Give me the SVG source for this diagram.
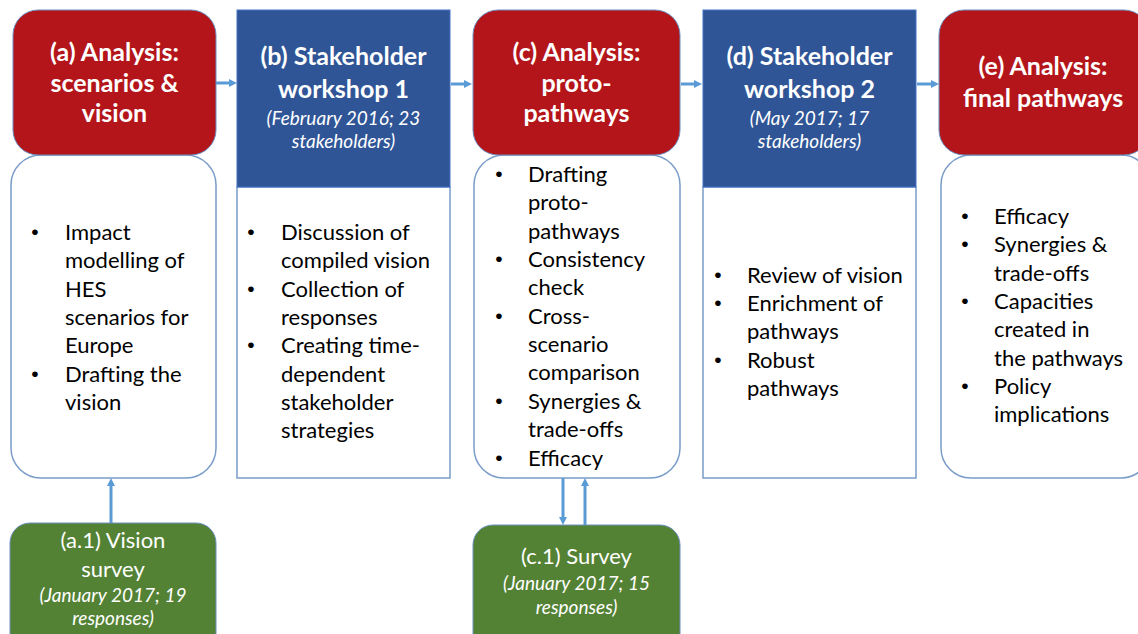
<svg xmlns="http://www.w3.org/2000/svg" width="1138" height="634" viewBox="0 0 1138 634">
<defs>
<style>
.red{fill:#B4151A;stroke:#6C8FC0;stroke-width:1}
.blue{fill:#2F5597;stroke:#4472C4;stroke-width:1}
.green{fill:#548235;stroke:#6C8FC0;stroke-width:1}
.white{fill:#FFFFFF;stroke:#7A9CC8;stroke-width:1.5}
.t{font-family:Lato,"Open Sans","Liberation Sans",sans-serif;font-weight:bold;font-size:25px;fill:#FFFFFF;text-anchor:middle}
.it{font-family:Lato,"Open Sans","Liberation Sans",sans-serif;font-style:italic;font-size:19px;fill:#FFFFFF;text-anchor:middle}
.g{font-family:Lato,"Open Sans","Liberation Sans",sans-serif;font-size:22px;fill:#FFFFFF;text-anchor:middle}
.b{font-family:Lato,"Open Sans","Liberation Sans",sans-serif;font-size:22px;fill:#000000}
.d{font-family:"Liberation Sans",sans-serif;font-size:21px;fill:#000000;text-anchor:middle}
.c{stroke:#5B9BD5;stroke-width:3;fill:none;marker-end:url(#ah)}
</style>
<marker id="ah" viewBox="0 0 10 10" refX="5" refY="5" markerWidth="8" markerHeight="9" markerUnits="userSpaceOnUse" orient="auto">
<path d="M0,0 L10,5 L0,10 z" fill="#5B9BD5"/>
</marker>
</defs>
<rect width="1138" height="634" fill="#FFFFFF"/>

<g id="connectors">
<line class="c" x1="216" y1="83" x2="233" y2="83"/>
<line class="c" x1="451" y1="84" x2="468" y2="84"/>
<line class="c" x1="681" y1="84" x2="698" y2="84"/>
<line class="c" x1="917" y1="84" x2="935" y2="84"/>
<line class="c" x1="111" y1="523" x2="111" y2="482"/>
<line class="c" x1="563" y1="478" x2="563" y2="521"/>
<line class="c" x1="585" y1="525" x2="585" y2="482"/>
</g>

<g id="node-a">
<rect class="white" x="11" y="155" width="205" height="323" rx="30"/>
<rect class="red" x="13" y="10" width="203" height="145" rx="25"/>
<text class="t" x="114.5" y="61">(a) Analysis:</text>
<text class="t" x="114.5" y="92">scenarios &amp;</text>
<text class="t" x="114.5" y="122">vision</text>
<text class="d" x="35" y="239">•</text>
<text class="d" x="35" y="381">•</text>
<g class="b">
<text x="65" y="240">Impact</text>
<text x="65" y="268">modelling of</text>
<text x="65" y="297">HES</text>
<text x="65" y="325">scenarios for</text>
<text x="65" y="353">Europe</text>
<text x="65" y="382">Drafting the</text>
<text x="65" y="410">vision</text>
</g>
</g>

<g id="node-b">
<rect class="white" x="237" y="187" width="213" height="291"/>
<rect class="blue" x="237" y="10" width="213" height="177"/>
<text class="t" x="343.5" y="65">(b) Stakeholder</text>
<text class="t" x="343.5" y="98">workshop 1</text>
<text class="it" x="343.5" y="125">(February 2016; 23</text>
<text class="it" x="343.5" y="148">stakeholders)</text>
<text class="d" x="251" y="239">•</text>
<text class="d" x="251" y="296">•</text>
<text class="d" x="251" y="352">•</text>
<g class="b">
<text x="281" y="240">Discussion of</text>
<text x="281" y="268">compiled vision</text>
<text x="281" y="297">Collection of</text>
<text x="281" y="325">responses</text>
<text x="281" y="353">Creating time-</text>
<text x="281" y="382">dependent</text>
<text x="281" y="410">stakeholder</text>
<text x="281" y="438">strategies</text>
</g>
</g>

<g id="node-c">
<rect class="white" x="474" y="155" width="206" height="323" rx="30"/>
<rect class="red" x="473" y="10" width="207" height="145" rx="25"/>
<text class="t" x="576.5" y="61">(c) Analysis:</text>
<text class="t" x="576.5" y="92">proto-</text>
<text class="t" x="576.5" y="122">pathways</text>
<text class="d" x="499" y="181">•</text>
<text class="d" x="499" y="266">•</text>
<text class="d" x="499" y="323">•</text>
<text class="d" x="499" y="408">•</text>
<text class="d" x="499" y="465">•</text>
<g class="b">
<text x="528" y="182">Drafting</text>
<text x="528" y="210">proto-</text>
<text x="528" y="239">pathways</text>
<text x="528" y="267">Consistency</text>
<text x="528" y="295">check</text>
<text x="528" y="324">Cross-</text>
<text x="528" y="352">scenario</text>
<text x="528" y="380">comparison</text>
<text x="528" y="409">Synergies &amp;</text>
<text x="528" y="437">trade-offs</text>
<text x="528" y="466">Efficacy</text>
</g>
</g>

<g id="node-d">
<rect class="white" x="703" y="187" width="213" height="291"/>
<rect class="blue" x="703" y="10" width="213" height="177"/>
<text class="t" x="809.5" y="65">(d) Stakeholder</text>
<text class="t" x="809.5" y="98">workshop 2</text>
<text class="it" x="809.5" y="125">(May 2017; 17</text>
<text class="it" x="809.5" y="148">stakeholders)</text>
<text class="d" x="718" y="282">•</text>
<text class="d" x="718" y="310">•</text>
<text class="d" x="718" y="367">•</text>
<g class="b">
<text x="747" y="283">Review of vision</text>
<text x="747" y="311">Enrichment of</text>
<text x="747" y="339">pathways</text>
<text x="747" y="368">Robust</text>
<text x="747" y="396">pathways</text>
</g>
</g>

<g id="node-e">
<rect class="white" x="941" y="155" width="210" height="323" rx="30"/>
<rect class="red" x="939" y="10" width="210" height="145" rx="25"/>
<text class="t" x="1043" y="75">(e) Analysis:</text>
<text class="t" x="1043" y="107">final pathways</text>
<text class="d" x="965" y="223">•</text>
<text class="d" x="965" y="251">•</text>
<text class="d" x="965" y="308">•</text>
<text class="d" x="965" y="393">•</text>
<g class="b">
<text x="994" y="224">Efficacy</text>
<text x="994" y="252">Synergies &amp;</text>
<text x="994" y="281">trade-offs</text>
<text x="994" y="309">Capacities</text>
<text x="994" y="337">created in</text>
<text x="994" y="366">the pathways</text>
<text x="994" y="394">Policy</text>
<text x="994" y="422">implications</text>
</g>
</g>

<g id="node-a1">
<rect class="green" x="10" y="523" width="206" height="130" rx="20"/>
<text class="g" x="113" y="548">(a.1) Vision</text>
<text class="g" x="113" y="577">survey</text>
<text class="it" x="113" y="602">(January 2017; 19</text>
<text class="it" x="113" y="625">responses)</text>
</g>

<g id="node-c1">
<rect class="green" x="473" y="525" width="207" height="130" rx="20"/>
<text class="g" x="576.5" y="564">(c.1) Survey</text>
<text class="it" x="576.5" y="590">(January 2017; 15</text>
<text class="it" x="576.5" y="614">responses)</text>
</g>
</svg>
